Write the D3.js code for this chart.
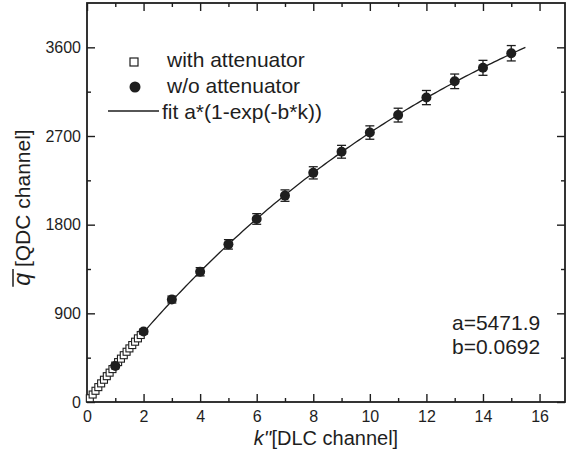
<!DOCTYPE html>
<html>
<head>
<meta charset="utf-8">
<script src="https://cdn.jsdelivr.net/npm/d3@7"></script>
<style>
  body { margin: 0; background: #fff; }
  text { font-family: "Liberation Sans", Arial, sans-serif; fill: #1e1e1e; }
</style>
</head>
<body>
<div id="chart"></div>
<script>
// data
var attK = [0.1, 0.2, 0.3, 0.4, 0.5, 0.6, 0.7, 0.8, 0.9, 1.0, 1.1, 1.2, 1.3, 1.4, 1.5, 1.6, 1.7, 1.8, 1.9];
var attQ = [38, 76, 114, 151, 189, 226, 262, 298, 334, 370, 405, 440, 475, 510, 544, 578, 612, 646, 680];

var noAttK = [1, 2, 3, 4, 5, 6, 7, 8, 9, 10, 11, 12, 13, 14, 15];
var noAttQ = [366, 715, 1040, 1322, 1600, 1858, 2095, 2326, 2540, 2735, 2912, 3090, 3255, 3392, 3540];
var noAttErr = [15, 25, 35, 42, 48, 54, 58, 62, 65, 68, 70, 72, 74, 76, 78];

// fit parameters
var fitA = 5471.9;
var fitB = 0.0692;
var fitMaxK = 15.5;

var yTicks = [0, 900, 1800, 2700, 3600];
var xTicks = [0, 2, 4, 6, 8, 10, 12, 14, 16];

var svgWidth = 574, svgHeight = 464;
var margin = { top: 3, right: 9, bottom: 62, left: 87 };
var width = svgWidth - margin.left - margin.right;
var height = svgHeight - margin.top - margin.bottom;

var svg = d3.select("#chart").append("svg")
  .attr("width", svgWidth)
  .attr("height", svgHeight);

var g = svg.append("g")
  .attr("transform", `translate(${margin.left}, ${margin.top})`);

var x = d3.scaleLinear().domain([0, 16.9]).range([0, width]);
var y = d3.scaleLinear().domain([0, 4050]).range([height, 0]);

var xMinor = d3.range(1, 17, 2);
var yMinor = d3.range(450, 4050, 900);

function styleAxis(sel) {
  sel.select(".domain").remove();
  sel.selectAll("line").attr("stroke", "#1e1e1e").attr("stroke-width", 1.4);
  sel.selectAll("text").attr("font-size", "16px").style("fill", "#1e1e1e");
}

// bottom
g.append("g").attr("transform", `translate(0, ${height})`)
  .call(d3.axisBottom(x).tickValues(xTicks).tickSize(-8).tickPadding(9).tickFormat(d3.format("d")))
  .call(styleAxis);
g.append("g").attr("transform", `translate(0, ${height})`)
  .call(d3.axisBottom(x).tickValues(xMinor).tickSize(-4).tickFormat(""))
  .call(styleAxis);
// top
g.append("g")
  .call(d3.axisTop(x).tickValues(xTicks).tickSize(-8).tickFormat(""))
  .call(styleAxis);
g.append("g")
  .call(d3.axisTop(x).tickValues(xMinor).tickSize(-4).tickFormat(""))
  .call(styleAxis);
// left
g.append("g")
  .call(d3.axisLeft(y).tickValues(yTicks).tickSize(-8).tickPadding(6).tickFormat(d3.format("d")))
  .call(styleAxis);
g.append("g")
  .call(d3.axisLeft(y).tickValues(yMinor).tickSize(-4).tickFormat(""))
  .call(styleAxis);
// right
g.append("g").attr("transform", `translate(${width}, 0)`)
  .call(d3.axisRight(y).tickValues(yTicks).tickSize(-8).tickFormat(""))
  .call(styleAxis);
g.append("g").attr("transform", `translate(${width}, 0)`)
  .call(d3.axisRight(y).tickValues(yMinor).tickSize(-4).tickFormat(""))
  .call(styleAxis);

// frame
g.append("rect")
  .attr("width", width).attr("height", height)
  .attr("fill", "none").attr("stroke", "#1e1e1e").attr("stroke-width", 1.8);

// fit curve
var fitPts = d3.range(0, fitMaxK + 0.001, 0.1).map(k => [k, fitA * (1 - Math.exp(-fitB * k))]);
g.append("path")
  .datum(fitPts)
  .attr("fill", "none")
  .attr("stroke", "#1e1e1e")
  .attr("stroke-width", 1.3)
  .attr("d", d3.line().x(d => x(d[0])).y(d => y(d[1])));

// with attenuator squares
var sq = 7;
g.selectAll("rect.att")
  .data(attK)
  .enter()
  .append("rect")
  .attr("class", "att")
  .attr("x", (d, i) => x(d) - sq / 2)
  .attr("y", (d, i) => y(attQ[i]) - sq / 2)
  .attr("width", sq).attr("height", sq)
  .attr("fill", "#fff")
  .attr("stroke", "#1e1e1e")
  .attr("stroke-width", 1.1);

// error bars
var errG = g.selectAll("g.err")
  .data(noAttK)
  .enter()
  .append("g")
  .attr("class", "err")
  .attr("stroke", "#1e1e1e")
  .attr("stroke-width", 1.3);
errG.append("line")
  .attr("x1", d => x(d)).attr("x2", d => x(d))
  .attr("y1", (d, i) => y(noAttQ[i] - noAttErr[i]))
  .attr("y2", (d, i) => y(noAttQ[i] + noAttErr[i]));
errG.append("line")
  .attr("x1", d => x(d) - 4.5).attr("x2", d => x(d) + 4.5)
  .attr("y1", (d, i) => y(noAttQ[i] + noAttErr[i]))
  .attr("y2", (d, i) => y(noAttQ[i] + noAttErr[i]));
errG.append("line")
  .attr("x1", d => x(d) - 4.5).attr("x2", d => x(d) + 4.5)
  .attr("y1", (d, i) => y(noAttQ[i] - noAttErr[i]))
  .attr("y2", (d, i) => y(noAttQ[i] - noAttErr[i]));

// w/o attenuator circles
g.selectAll("circle.noatt")
  .data(noAttK)
  .enter()
  .append("circle")
  .attr("class", "noatt")
  .attr("cx", d => x(d))
  .attr("cy", (d, i) => y(noAttQ[i]))
  .attr("r", 5)
  .attr("fill", "#1e1e1e");

// legend
svg.append("rect")
  .attr("x", 130).attr("y", 58).attr("width", 8).attr("height", 8)
  .attr("fill", "#fff").attr("stroke", "#1e1e1e").attr("stroke-width", 1.2);
svg.append("text").attr("x", 167).attr("y", 67).attr("font-size", "21px").text("with attenuator");
svg.append("circle").attr("cx", 135).attr("cy", 87).attr("r", 5.5).attr("fill", "#1e1e1e");
svg.append("text").attr("x", 167).attr("y", 93).attr("font-size", "21px").text("w/o attenuator");
svg.append("line")
  .attr("x1", 108).attr("x2", 159).attr("y1", 111).attr("y2", 111)
  .attr("stroke", "#1e1e1e").attr("stroke-width", 1.3);
svg.append("text").attr("x", 162).attr("y", 119).attr("font-size", "21px").text("fit a*(1-exp(-b*k))");

// fit parameters
svg.append("text").attr("x", 452).attr("y", 330).attr("font-size", "21px").text("a=" + fitA.toFixed(1));
svg.append("text").attr("x", 452).attr("y", 354).attr("font-size", "21px").text("b=" + fitB.toFixed(4));

// x-axis title
var xt = svg.append("text")
  .attr("x", margin.left + width / 2).attr("y", 445)
  .attr("text-anchor", "middle").attr("font-size", "20px");
xt.append("tspan").attr("font-style", "italic").text("k''");
xt.append("tspan").text("[DLC channel]");

// y-axis title
var yG = svg.append("g").attr("transform", `translate(30, ${margin.top + height / 2 + 5}) rotate(-90)`);
var yt = yG.append("text").attr("text-anchor", "middle").attr("font-size", "21px");
yt.append("tspan").attr("font-style", "italic").attr("font-size", "23px").text("q");
yt.append("tspan").text(" [QDC channel]");
var tw = yt.node().getComputedTextLength();
var qw = yt.node().getSubStringLength(0, 1);
yG.append("line")
  .attr("x1", -tw / 2 - 1).attr("x2", -tw / 2 + qw + 4)
  .attr("y1", -17).attr("y2", -17)
  .attr("stroke", "#1e1e1e").attr("stroke-width", 1.5);
</script>
</body>
</html>
